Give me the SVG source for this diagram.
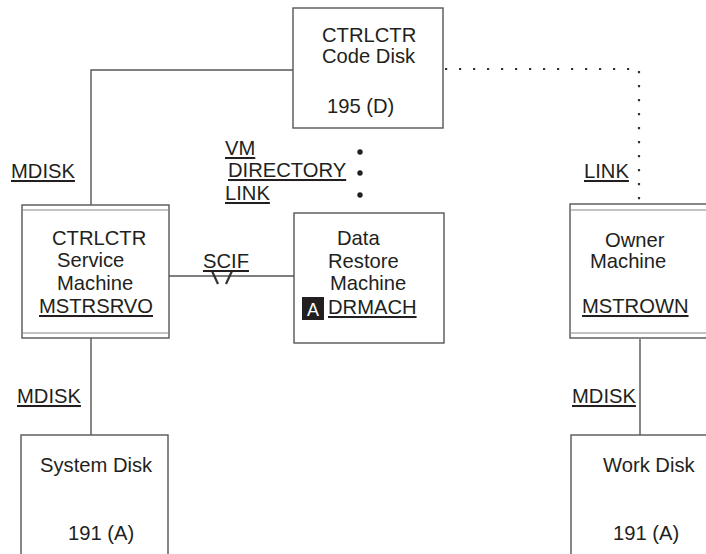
<svg xmlns="http://www.w3.org/2000/svg" width="706" height="554" viewBox="0 0 706 554">
<style>
.t{font-family:"Liberation Sans",Arial,sans-serif;font-size:20.2px;fill:#231f20}
.u{text-decoration:underline}
.box{fill:#fff;stroke:#555;stroke-width:1.4}
.dbl{stroke:#888;stroke-width:1.2;fill:none}
.ln{stroke:#555;stroke-width:1.4;fill:none}
.brk{stroke:#333;stroke-width:2.2;fill:none}
.dot{stroke:#333;stroke-width:2.2;fill:none;stroke-dasharray:2.2 11.8}
</style>
<rect width="706" height="554" fill="#fff"/>
<g id="connectors">
<polyline class="ln" points="91,205 91,70 293,70"/>
<line class="ln" x1="169" y1="276" x2="294" y2="276"/>
<line class="brk" x1="212" y1="271" x2="218" y2="284"/>
<line class="brk" x1="232" y1="271" x2="226" y2="284"/>
<line class="ln" x1="91" y1="338" x2="91" y2="435"/>
<line class="ln" x1="640" y1="339" x2="640" y2="435"/>
<polyline class="dot" points="445,69 639,69 639,204"/>
<circle cx="360" cy="152" r="2.7" fill="#231f20"/>
<circle cx="360" cy="173" r="2.7" fill="#231f20"/>
<circle cx="360" cy="195" r="2.7" fill="#231f20"/>
<text class="t u" x="11" y="178">MDISK</text>
<text class="t u" x="225" y="155">VM</text>
<text class="t u" x="228" y="177">DIRECTORY</text>
<text class="t u" x="225" y="200">LINK</text>
<text class="t u" x="584" y="178">LINK</text>
<text class="t u" x="203" y="268">SCIF</text>
<text class="t u" x="17" y="403">MDISK</text>
<text class="t u" x="572" y="403">MDISK</text>
</g>
<g id="codedisk">
<rect class="box" x="293" y="8" width="150" height="120"/>
<text class="t" x="322" y="42">CTRLCTR</text>
<text class="t" x="322" y="63">Code Disk</text>
<text class="t" x="327" y="113">195 (D)</text>
</g>
<g id="servicemachine">
<rect class="box" x="22" y="205" width="147" height="133"/>
<line class="dbl" x1="22" y1="210" x2="169" y2="210"/>
<line class="dbl" x1="22" y1="333" x2="169" y2="333"/>
<text class="t" x="52" y="245">CTRLCTR</text>
<text class="t" x="57" y="267">Service</text>
<text class="t" x="57" y="290">Machine</text>
<text class="t u" x="39" y="313">MSTRSRVO</text>
</g>
<g id="datarestore">
<rect class="box" x="294" y="213" width="150" height="130"/>
<text class="t" x="337" y="245">Data</text>
<text class="t" x="328" y="268">Restore</text>
<text class="t" x="330" y="290">Machine</text>
<rect x="302" y="297" width="22" height="23" fill="#231f20"/>
<text class="t" x="313" y="316" text-anchor="middle" style="fill:#fff;font-size:18px">A</text>
<text class="t u" x="328" y="314">DRMACH</text>
</g>
<g id="ownermachine">
<rect class="box" x="570" y="204" width="150" height="134"/>
<line class="dbl" x1="570" y1="210" x2="720" y2="210"/>
<line class="dbl" x1="570" y1="333" x2="720" y2="333"/>
<text class="t" x="605" y="247">Owner</text>
<text class="t" x="590" y="268">Machine</text>
<text class="t u" x="582" y="313">MSTROWN</text>
</g>
<g id="systemdisk">
<rect class="box" x="21" y="435" width="147" height="140"/>
<text class="t" x="40" y="472">System Disk</text>
<text class="t" x="68" y="540">191 (A)</text>
</g>
<g id="workdisk">
<rect class="box" x="571" y="435" width="150" height="140"/>
<text class="t" x="603" y="472">Work Disk</text>
<text class="t" x="613" y="540">191 (A)</text>
</g>
</svg>
